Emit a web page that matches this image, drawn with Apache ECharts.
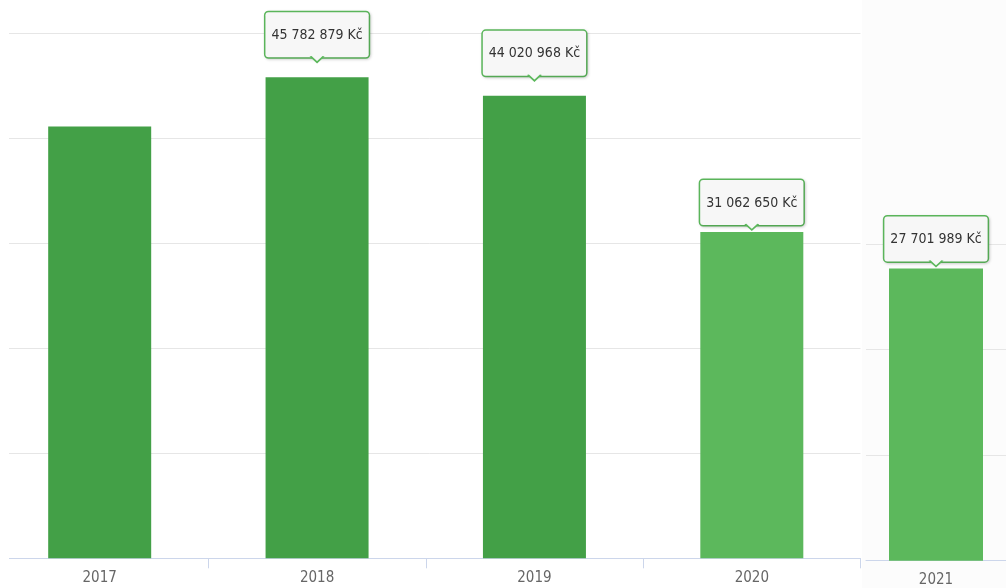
<!DOCTYPE html>
<html lang="cs">
<head>
    <meta charset="UTF-8">
    <title>Obrat</title>
    <script src="https://cdn.jsdelivr.net/npm/echarts@6/dist/echarts.min.js"></script>
    <style>
        html, body { margin: 0; padding: 0; background: #fff; }
        #chart { width: 1006px; height: 588px; }
    </style>
</head>
<body>
<div id="chart"></div>
<script>
    // data
    var years = ['2017', '2018', '2019', '2020'];
    var amounts = [41100000, 45782879, 44020968, 31062650];
    var lastYears = ['2021'];
    var lastAmounts = [27701989];

    var dark = '#43a047', light = '#5cb85c';
    var font = "'Liberation Sans Narrow', 'DejaVu Sans Condensed', sans-serif";

    function kc(v) {
        return String(v).replace(/\B(?=(\d{3})+(?!\d))/g, ' ') + ' Kč';
    }

    var boxLabel = {
        position: 'top',
        formatter: function (p) { return kc(p.value); },
        fontFamily: font,
        fontSize: 14,
        lineHeight: 16,
        color: '#333',
        backgroundColor: '#f7f7f7',
        borderColor: '#5cb85c',
        borderWidth: 1.5,
        borderRadius: 3,
        padding: [15, 6, 14, 6],
        shadowColor: 'rgba(0,0,0,0.15)',
        shadowBlur: 3,
        shadowOffsetX: 1,
        shadowOffsetY: 1
    };

    // gap between box and bar top
    function gapFor(i) { return i < 3 ? 20 : 7; }

    var mainBars = amounts.map(function (v, i) {
        return {
            value: v,
            itemStyle: { color: i < 3 ? dark : light },
            label: { show: i > 0, distance: gapFor(i) }
        };
    });
    var mainPointers = amounts.map(function (v, i) {
        if (i === 0) return '-';
        return { value: v, symbolOffset: [0, -(gapFor(i) - 2)] };
    });

    var pointer = {
        type: 'scatter',
        symbol: 'path://M0,0 L6,6 L12,0',
        symbolSize: [13, 6],
        z: 10,
        silent: true,
        itemStyle: { color: '#f7f7f7', borderColor: '#5cb85c', borderWidth: 1.5, opacity: 1 }
    };

    var axisText = { margin: 12, color: '#666', fontFamily: font, fontSize: 15 };

    var chart = echarts.init(document.getElementById('chart'));
    chart.setOption({
        animation: false,
        backgroundColor: '#fff',
        graphic: [
            { type: 'rect', z: -10, silent: true, shape: { x: 862, y: 0, width: 144, height: 588 }, style: { fill: '#fcfcfc' } },
            { type: 'rect', z: 100, silent: true, shape: { x: 0, y: 0, width: 9, height: 588 }, style: { fill: '#fff' } }
        ],
        grid: [
            { left: -9, width: 869.5, top: 33, bottom: 29.7, outerBoundsMode: 'none' },
            { left: 866, right: 0, top: 218, bottom: 27.3, outerBoundsMode: 'none' }
        ],
        xAxis: [{
            gridIndex: 0,
            type: 'category',
            data: years,
            axisLine: { lineStyle: { color: '#ccd6eb', width: 1 } },
            axisTick: { show: true, length: 10, lineStyle: { color: '#ccd6eb', width: 1 } },
            axisLabel: axisText
        }, {
            gridIndex: 1,
            type: 'category',
            data: lastYears,
            axisLine: { lineStyle: { color: '#ccd6eb', width: 1 } },
            axisTick: { show: false },
            axisLabel: axisText
        }],
        yAxis: [{
            gridIndex: 0,
            type: 'value',
            min: 0,
            max: 50000000,
            interval: 10000000,
            axisLabel: { show: false },
            axisLine: { show: false },
            axisTick: { show: false },
            splitLine: { lineStyle: { color: '#e6e6e6' } }
        }, {
            gridIndex: 1,
            type: 'value',
            min: 0,
            max: 32480000,
            interval: 10000000,
            axisLabel: { show: false },
            axisLine: { show: false },
            axisTick: { show: false },
            splitLine: { showMaxLine: false, lineStyle: { color: '#e6e6e6' } }
        }],
        series: [{
            type: 'bar',
            xAxisIndex: 0,
            yAxisIndex: 0,
            barWidth: 103,
            data: mainBars,
            label: boxLabel
        }, Object.assign({}, pointer, {
            xAxisIndex: 0,
            yAxisIndex: 0,
            data: mainPointers
        }), {
            type: 'bar',
            xAxisIndex: 1,
            yAxisIndex: 1,
            barWidth: 94,
            data: lastAmounts.map(function (v) {
                return { value: v, itemStyle: { color: light } };
            }),
            label: Object.assign({}, boxLabel, { show: true, distance: gapFor(4) })
        }, Object.assign({}, pointer, {
            xAxisIndex: 1,
            yAxisIndex: 1,
            data: lastAmounts.map(function (v) {
                return { value: v, symbolOffset: [0, -(gapFor(4) - 2)] };
            })
        })]
    });
</script>
</body>
</html>
